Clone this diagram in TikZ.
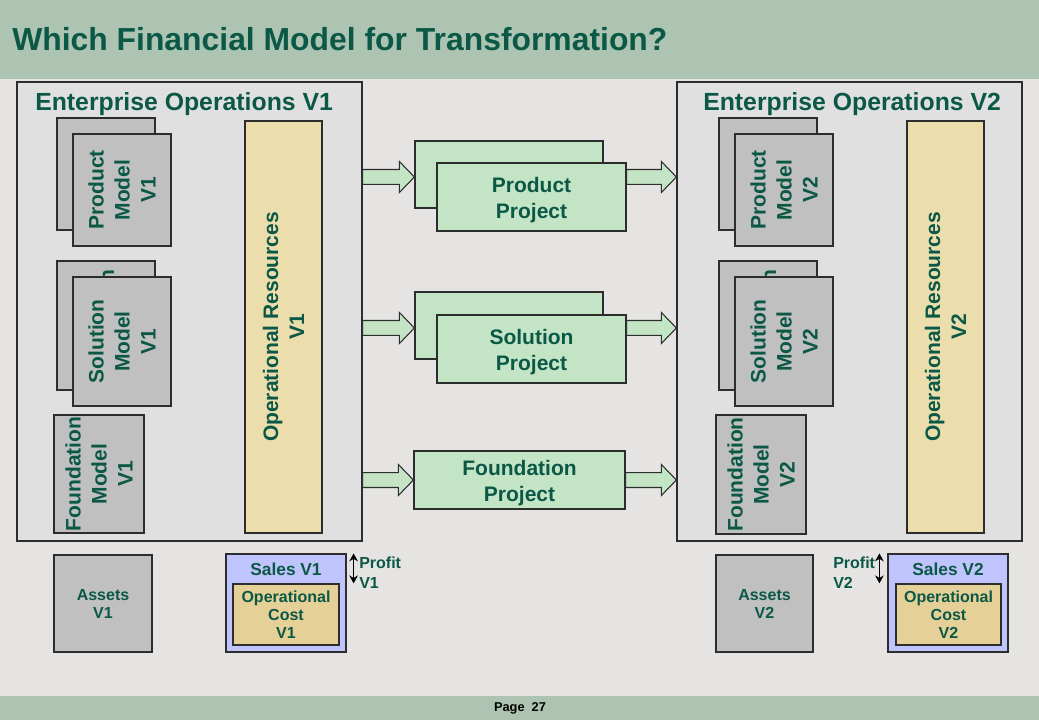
\documentclass[tikz,border=0pt]{standalone}
\usepackage{fontspec}
\setmainfont{Liberation Sans}
\usetikzlibrary{calc, arrows.meta, positioning}
\definecolor{bgcol}{RGB}{229, 228, 226}
\definecolor{barcol}{RGB}{173, 196, 178}
\definecolor{eboxfill}{RGB}{224, 224, 224}
\definecolor{modgray}{RGB}{192, 192, 192}
\definecolor{resfill}{RGB}{236, 221, 173}
\definecolor{costfill}{RGB}{229, 208, 152}
\definecolor{salesfill}{RGB}{191, 196, 252}
\definecolor{projfill}{RGB}{196, 228, 198}
\definecolor{dkgreen}{RGB}{12, 88, 70}
\definecolor{linegray}{RGB}{45, 45, 45}
\newcommand{\bigtitlefont}{\fontsize{23.9}{27}\selectfont\bfseries}
\newcommand{\entfont}{\fontsize{18.6}{22}\selectfont\bfseries}
\newcommand{\boxfont}{\fontsize{15.75}{19.5}\selectfont\bfseries}
\newcommand{\lowfont}{\fontsize{12}{13.5}\selectfont\bfseries}
\newcommand{\pagefont}{\fontsize{9.6}{11}\selectfont\bfseries}
% block arrow between two points on one line
\newcommand{\blockarrow}[2]{%
  \draw[barrow] let \p1=(#1), \p2=(#2) in
    (\x1,\y1+5.6pt) -- (\x2-11.25pt,\y1+5.6pt) -- (\x2-11.25pt,\y1+11.6pt) -- (\x2,\y1)
    -- (\x2-11.25pt,\y1-11.6pt) -- (\x2-11.25pt,\y1-5.6pt) -- (\x1,\y1-5.6pt) -- cycle;}

\begin{document}
\begin{tikzpicture}[x=0.75pt, y=-0.75pt,
  sz/.style 2 args={minimum width=#1*0.75pt, minimum height=#2*0.75pt},
  ebox/.style={draw=linegray, fill=eboxfill, line width=0.9pt, inner sep=0pt},
  mbox/.style={draw=linegray, fill=modgray, line width=0.9pt, inner sep=0pt, rotate=90, align=center, text=dkgreen, font=\boxfont},
  resbox/.style={mbox, fill=resfill},
  pbox/.style={draw=linegray, fill=projfill, line width=0.9pt, inner sep=0pt, align=center, text=dkgreen, font=\boxfont},
  ptext/.style={text=dkgreen, font=\boxfont, align=center, inner sep=0pt},
  lbox/.style={draw=linegray, line width=0.9pt, inner sep=0pt, align=center, text=dkgreen, font=\lowfont},
  lbl/.style={text=dkgreen, font=\lowfont, inner sep=0pt},
  barrow/.style={draw=linegray, fill=projfill, line width=0.8pt, line join=miter},
  profit/.style={{Stealth[length=6pt, width=6.5pt]}-{Stealth[length=6pt, width=6.5pt]}, line width=1.3pt, black}
]
  \useasboundingbox (0,0) rectangle (1039,720);
  \fill[bgcol] (0,0) rectangle (1039,720);
  \fill[barcol] (0,0) rectangle (1039,79);
  \fill[barcol] (0,696) rectangle (1039,720);

  % title and page
  \node[anchor=west, text=dkgreen, font=\bigtitlefont, inner sep=0pt] (title) at (12,39) {Which Financial Model for Transformation?};
  \node[font=\pagefont, inner sep=0pt] (page) at (520,708) {Page\ \ 27};

  % Enterprise V1
  \node[ebox, sz={345}{459}] (e1) at (189.5,311.5) {};
  \node[anchor=west, text=dkgreen, font=\entfont, inner sep=0pt] (e1t) at (35,104) {Enterprise Operations V1};
  \node[mbox, sz={112}{98}] (pm1b) at (106,174) {};
  \node[mbox, sz={112}{98}] (pm1) at (122,190) {Product\\Model\\V1};
  \node[mbox, sz={129}{98}] (sm1b) at (106,325.5) {};
  \node[rotate=90, anchor=base east, inner sep=0pt, text=dkgreen, font=\boxfont] (sm1n) at (114,269) {n};
  \node[mbox, sz={129}{98}] (sm1) at (122,341.5) {Solution\\Model\\V1};
  \node[mbox, sz={118}{90}] (fm1) at (99,474) {Foundation\\Model\\V1};
  \node[resbox, sz={412}{77}] (or1) at (283.5,327) {Operational Resources\\V1};

  % Enterprise V2
  \node[ebox, sz={345}{459}] (e2) at (849.5,311.5) {};
  \node[anchor=west, text=dkgreen, font=\entfont, inner sep=0pt] (e2t) at (703,104) {Enterprise Operations V2};
  \node[mbox, sz={112}{98}] (pm2b) at (768,174) {};
  \node[mbox, sz={112}{98}] (pm2) at (784,190) {Product\\Model\\V2};
  \node[mbox, sz={129}{98}] (sm2b) at (768,325.5) {};
  \node[rotate=90, anchor=base east, inner sep=0pt, text=dkgreen, font=\boxfont] (sm2n) at (776,269) {n};
  \node[mbox, sz={129}{98}] (sm2) at (784,341.5) {Solution\\Model\\V2};
  \node[mbox, sz={119}{90}] (fm2) at (761,474.5) {Foundation\\Model\\V2};
  \node[resbox, sz={412}{77}] (or2) at (945.5,327) {Operational Resources\\V2};

  % projects
  \node[pbox, sz={188}{67}] (ppb) at (509,174.5) {};
  \node[pbox, sz={189}{68}] (pp) at (531.5,197) {};
  \node[ptext] (ppt) at ($(pp.center)+(0,3)$) {Product\\Project};
  \node[pbox, sz={188}{67}] (spb) at (509,325.5) {};
  \node[pbox, sz={189}{68}] (sp) at (531.5,349) {};
  \node[ptext] (spt) at ($(sp.center)+(0,3)$) {Solution\\Project};
  \node[pbox, sz={211}{58}] (fp) at (519.5,480) {};
  \node[ptext] (fpt) at ($(fp.center)+(0,3)$) {Foundation\\Project};

  \coordinate (pa) at ($(ppb.west)+(0,2.5)$);
  \coordinate (sa) at ($(spb.west)+(0,2.5)$);
  \blockarrow{e1.east |- pa}{pa}
  \blockarrow{pp.east |- pa}{e2.west |- pa}
  \blockarrow{e1.east |- sa}{sa}
  \blockarrow{sp.east |- sa}{e2.west |- sa}
  \blockarrow{e1.east |- fp.west}{fp.west}
  \blockarrow{fp.east}{e2.west |- fp.east}

  % bottom row V1
  \node[lbox, fill=modgray, sz={98}{97}] (as1) at (103,603.5) {Assets\\V1};
  \node[lbox, fill=salesfill, sz={120}{98}] (s1) at (286,603) {};
  \node[lbl, font=\fontsize{13}{15}\selectfont\bfseries] (s1t) at ($(s1.north)+(0,16)$) {Sales V1};
  \node[lbox, fill=costfill, sz={106}{61}] (c1) at (286,614.5) {Operational\\Cost\\V1};
  \draw[profit] ($(s1.north east)+(7,0)$) -- ($(s1.north east |- c1.north)+(7,0)$);
  \node[lbl, anchor=west, align=left] (p1) at (359,573) {Profit\\[1.5pt]V1};

  % bottom row V2
  \node[lbox, fill=modgray, sz={97}{97}] (as2) at (764.5,603.5) {Assets\\V2};
  \node[lbox, fill=salesfill, sz={120}{98}] (s2) at (948,603) {};
  \node[lbl, font=\fontsize{13}{15}\selectfont\bfseries] (s2t) at ($(s2.north)+(0,16)$) {Sales V2};
  \node[lbox, fill=costfill, sz={105}{61}] (c2) at (948.5,614.5) {Operational\\Cost\\V2};
  \draw[profit] ($(s2.north west)+(-8,0)$) -- ($(s2.north west |- c2.north)+(-8,0)$);
  \node[lbl, anchor=west, align=left] (p2) at (833,573) {Profit\\[1.5pt]V2};
\end{tikzpicture}
\end{document}
